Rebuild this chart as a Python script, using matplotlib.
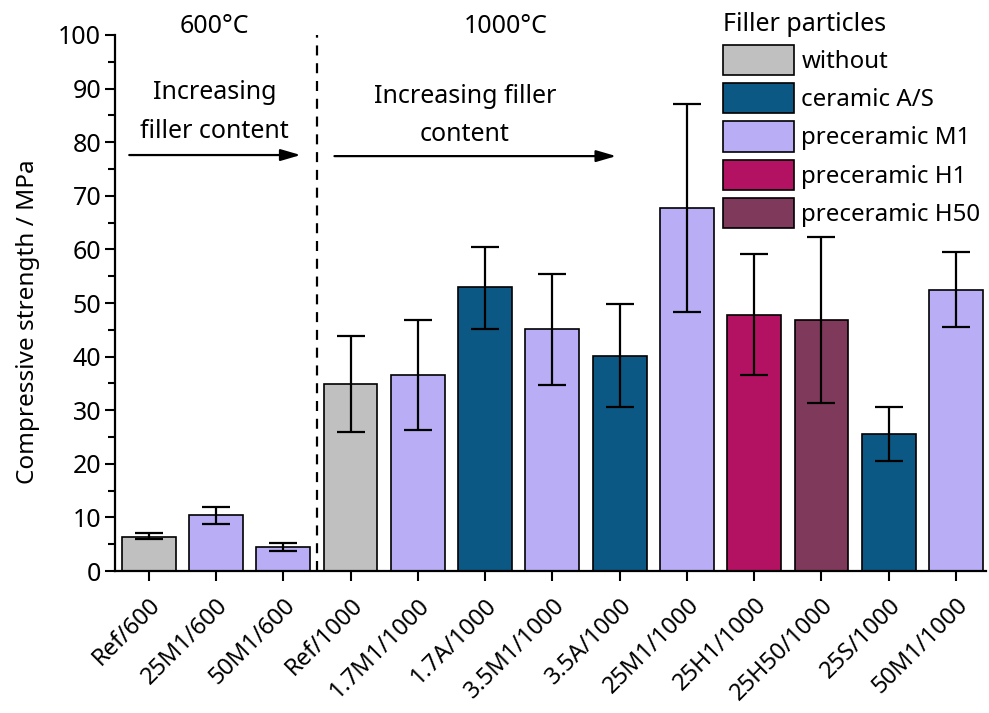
import matplotlib
matplotlib.use("Agg")
import matplotlib.pyplot as plt
from matplotlib.patches import Patch

plt.rcParams['font.family'] = ['Noto Sans', 'DejaVu Sans']

labels = ["Ref/600", "25M1/600", "50M1/600", "Ref/1000", "1.7M1/1000", "1.7A/1000",
          "3.5M1/1000", "3.5A/1000", "25M1/1000", "25H1/1000", "25H50/1000", "25S/1000", "50M1/1000"]
values = [6.4, 10.4, 4.5, 34.9, 36.6, 52.9, 45.2, 40.2, 67.7, 47.8, 46.9, 25.6, 52.5]
err_low = [5.9, 8.7, 3.8, 26.0, 26.3, 45.2, 34.8, 30.7, 48.4, 36.6, 31.4, 20.6, 45.5]
err_high = [7.2, 12.0, 5.3, 43.8, 46.8, 60.5, 55.5, 49.8, 87.1, 59.1, 62.3, 30.6, 59.5]
groups = ["without", "preceramic M1", "preceramic M1", "without", "preceramic M1", "ceramic A/S",
          "preceramic M1", "ceramic A/S", "preceramic M1", "preceramic H1", "preceramic H50",
          "ceramic A/S", "preceramic M1"]
legend_order = ["without", "ceramic A/S", "preceramic M1", "preceramic H1", "preceramic H50"]
colors = {"without": "#c0c0c0", "ceramic A/S": "#0b5884", "preceramic M1": "#b9aef6",
          "preceramic H1": "#b31263", "preceramic H50": "#7f3a5b"}

FS = 18
LFS = 17.3

fig = plt.figure(figsize=(9.89, 7.13), dpi=100)
ax = fig.add_axes([0.1163, 0.199, 0.881, 0.752])

x = list(range(len(labels)))
yerr = [[v - l for v, l in zip(values, err_low)], [h - v for v, h in zip(values, err_high)]]
ax.bar(x, values, width=0.8, color=[colors[g] for g in groups], edgecolor='black', linewidth=1.2,
       zorder=2)
ax.errorbar(x, values, yerr=yerr, fmt='none', ecolor='black', elinewidth=1.6, capsize=10,
            capthick=1.6, zorder=3)

ax.set_xlim(-0.5, 12.45)
ax.set_ylim(0, 100)
ax.set_yticks(range(0, 101, 10))
ax.set_yticks(range(5, 100, 10), minor=True)
ax.set_xticks(x)
ax.set_xticklabels(labels, rotation=45, ha='right', rotation_mode='anchor', fontsize=17)
ax.tick_params(axis='y', which='major', labelsize=FS, length=7, width=1.5, direction='out', pad=3)
ax.tick_params(axis='y', which='minor', length=5, width=1.5, direction='out')
ax.tick_params(axis='x', length=7, width=1.5, direction='out', pad=9)
for s in ['top', 'right']:
    ax.spines[s].set_visible(False)
for s in ['left', 'bottom']:
    ax.spines[s].set_linewidth(1.6)
ax.set_ylabel("Compressive strength / MPa", fontsize=17.5)
ax.yaxis.set_label_coords(-0.086, 0.465)

ax.axvline(2.5, ymin=0, ymax=1, color='black', linestyle=(0, (4.5, 3.5)), linewidth=1.6, zorder=1)

ax.annotate("", xy=(2.3, 77.6), xytext=(-0.33, 77.6),
            arrowprops=dict(arrowstyle='-|>,head_length=1.2,head_width=0.35', color='black', lw=1.6))
ax.annotate("", xy=(6.99, 77.4), xytext=(2.72, 77.4),
            arrowprops=dict(arrowstyle='-|>,head_length=1.2,head_width=0.35', color='black', lw=1.6))
ax.text(0.98, 85.6, "Increasing\nfiller content", ha='center', va='center', fontsize=FS,
        linespacing=1.7)
ax.text(4.7, 85.0, "Increasing filler\ncontent", ha='center', va='center', fontsize=FS,
        linespacing=1.7)
ax.text(0.98, 101.6, "600°C", ha='center', va='center', fontsize=FS, clip_on=False)
ax.text(5.3, 101.6, "1000°C", ha='center', va='center', fontsize=FS, clip_on=False)

handles = [Patch(facecolor=colors[g], edgecolor='black', linewidth=1.2) for g in legend_order]
leg = fig.legend(handles, legend_order, title="Filler particles", loc='upper left',
                 bbox_to_anchor=(0.721, 0.997), frameon=False, fontsize=LFS, title_fontsize=18,
                 handlelength=2.95, handleheight=1.55, handletextpad=0.33, labelspacing=0.34,
                 borderaxespad=0)
leg._legend_box.align = "left"

fig.savefig("out.png", dpi=100)
